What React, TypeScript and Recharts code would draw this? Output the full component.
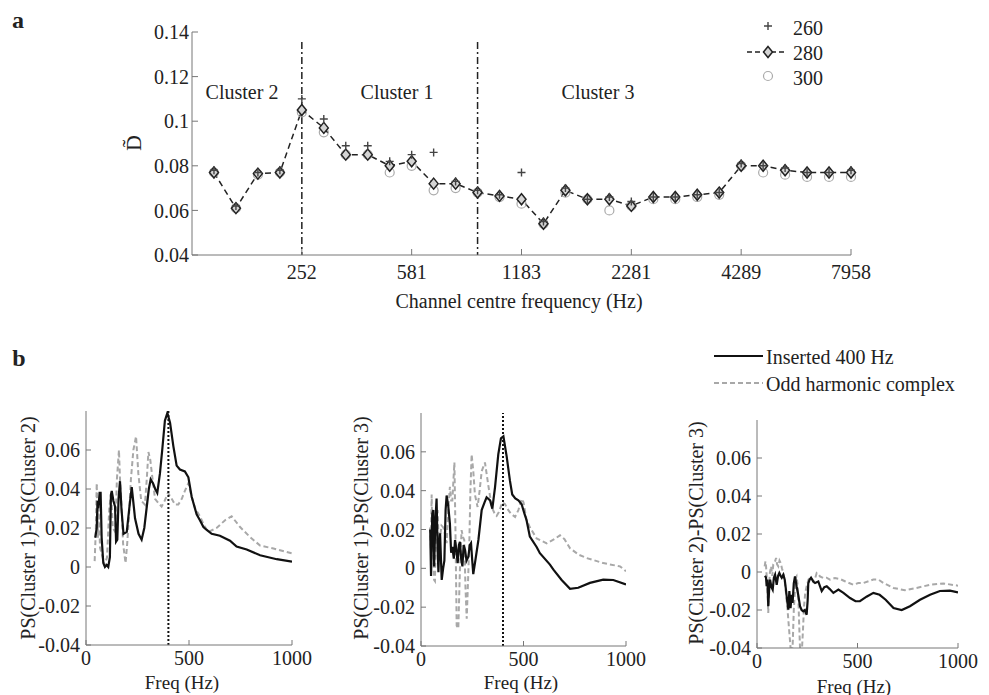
import React from 'react';
import { LineChart, Line, XAxis, YAxis, ReferenceLine } from 'recharts';

// panel a: channel index 0..29, tick labels are channel centre frequencies
const tickChannels = [4, 9, 14, 19, 24, 29];
const tickFreqs = ['252', '581', '1183', '2281', '4289', '7958'];
const dTicks = [0.04, 0.06, 0.08, 0.1, 0.12, 0.14];

const d260 = [0.078, 0.062, 0.077, 0.078, 0.110, 0.101, 0.089, 0.089, 0.082, 0.085, 0.086, 0.073, 0.069, 0.067, 0.077,
  0.055, 0.070, 0.065, 0.066, 0.064, 0.066, 0.066, 0.067, 0.068, 0.081, 0.080, 0.079, 0.077, 0.077, 0.078];
const d280 = [0.077, 0.061, 0.0765, 0.077, 0.105, 0.097, 0.085, 0.085, 0.080, 0.082, 0.072, 0.072, 0.068, 0.0665, 0.065,
  0.054, 0.069, 0.065, 0.065, 0.062, 0.066, 0.066, 0.067, 0.068, 0.080, 0.080, 0.078, 0.077, 0.077, 0.077];
const d300 = [0.077, 0.061, 0.076, 0.077, 0.104, 0.095, 0.085, 0.085, 0.077, 0.080, 0.069, 0.070, 0.068, 0.066, 0.063,
  0.054, 0.068, 0.065, 0.060, 0.062, 0.065, 0.065, 0.066, 0.067, 0.080, 0.077, 0.076, 0.075, 0.075, 0.075];
const clusterBounds = [4, 12];

// panel b: [freq Hz, power spectrum difference]
const freqTicks = [0, 500, 1000];
const psTicks = [-0.04, -0.02, 0, 0.02, 0.04, 0.06];
const insertedFreq = 400;

const c12Solid = [[45, 0.015], [52, 0.020], [56, 0.034], [60, 0.030], [66, 0.038], [71, 0.038], [76, 0.015], [84, 0.002],
  [92, 0.0], [100, 0.001], [108, 0.0], [116, 0.005], [121, 0.037], [125, 0.039], [133, 0.034], [141, 0.031], [146, 0.013],
  [152, 0.014], [158, 0.035], [165, 0.044], [172, 0.030], [182, 0.017], [198, 0.018], [210, 0.030], [222, 0.041], [238, 0.025],
  [255, 0.017], [270, 0.014], [283, 0.020], [294, 0.030], [305, 0.040], [314, 0.045], [325, 0.043], [336, 0.040], [346, 0.038],
  [359, 0.048], [370, 0.060], [383, 0.075], [395, 0.079], [408, 0.074], [424, 0.062], [440, 0.052], [456, 0.050], [480, 0.049],
  [497, 0.046], [513, 0.036], [537, 0.027], [553, 0.024], [570, 0.0205], [586, 0.019], [610, 0.017], [650, 0.016], [699, 0.0135],
  [731, 0.0105], [780, 0.009], [845, 0.006], [926, 0.004], [1000, 0.0027]];
const c12Dashed = [[42, 0.003], [48, 0.020], [52, 0.043], [58, 0.015], [62, 0.030], [68, 0.010], [78, 0.006], [90, 0.001],
  [102, 0.005], [113, 0.030], [122, 0.038], [130, 0.020], [142, 0.018], [150, 0.045], [160, 0.060], [165, 0.045], [171, 0.035],
  [180, 0.012], [192, 0.002], [200, 0.012], [208, 0.025], [218, 0.045], [230, 0.060], [243, 0.067], [254, 0.048], [268, 0.034],
  [286, 0.032], [295, 0.045], [303, 0.059], [312, 0.055], [322, 0.046], [335, 0.035], [350, 0.033], [367, 0.031], [382, 0.034],
  [398, 0.038], [416, 0.035], [432, 0.032], [448, 0.032], [465, 0.035], [480, 0.039], [497, 0.043], [513, 0.036], [530, 0.030],
  [553, 0.026], [575, 0.021], [594, 0.018], [634, 0.020], [675, 0.024], [707, 0.026], [748, 0.0205], [796, 0.0154], [845, 0.011],
  [910, 0.0095], [1000, 0.007]];

const c13Solid = [[45, 0.020], [49, -0.004], [55, 0.028], [60, 0.030], [64, 0.001], [70, 0.024], [76, 0.036], [81, 0.010],
  [85, -0.002], [90, 0.015], [93, 0.018], [101, -0.006], [108, 0.0], [114, 0.004], [120, 0.030], [125, 0.0375], [133, 0.032],
  [141, 0.023], [147, 0.008], [153, 0.011], [160, 0.005], [166, 0.0146], [172, 0.010], [179, 0.0027], [185, 0.012], [190, 0.0137],
  [196, 0.005], [202, 0.001], [208, 0.012], [215, 0.0095], [222, 0.004], [231, 0.006], [238, 0.012], [244, 0.013], [250, 0.004],
  [255, -0.003], [265, 0.004], [280, 0.0146], [296, 0.030], [310, 0.034], [320, 0.0366], [337, 0.035], [348, 0.0307], [361, 0.0417],
  [377, 0.0587], [390, 0.067], [402, 0.068], [418, 0.0575], [434, 0.045], [445, 0.038], [460, 0.036], [475, 0.035], [491, 0.033],
  [505, 0.028], [515, 0.0248], [531, 0.0163], [564, 0.011], [580, 0.0078], [629, 0.0019], [646, -0.0007], [686, -0.006],
  [727, -0.0105], [767, -0.010], [824, -0.0075], [889, -0.0058], [938, -0.006], [1000, -0.0083]];
const c13Dashed = [[44, 0.021], [48, 0.010], [52, 0.038], [56, 0.015], [60, 0.008], [64, -0.006], [68, -0.0066], [74, 0.025],
  [81, 0.030], [87, 0.012], [93, 0.016], [100, 0.022], [109, 0.021], [116, 0.018], [125, 0.013], [133, 0.030], [141, 0.042],
  [147, 0.035], [153, 0.035], [158, 0.045], [163, 0.0545], [168, 0.020], [174, -0.0295], [182, -0.031], [190, 0.0], [198, 0.0197],
  [205, 0.016], [211, 0.0146], [217, -0.010], [223, -0.026], [230, -0.005], [236, 0.0146], [241, 0.040], [247, 0.0587], [255, 0.050],
  [263, 0.038], [276, 0.0316], [286, 0.040], [296, 0.050], [312, 0.0545], [328, 0.043], [345, 0.0316], [360, 0.028], [369, 0.027],
  [380, 0.029], [397, 0.034], [410, 0.033], [426, 0.030], [440, 0.028], [459, 0.0265], [475, 0.030], [491, 0.0358], [500, 0.034],
  [515, 0.0248], [532, 0.021], [564, 0.0154], [613, 0.0129], [650, 0.015], [678, 0.017], [700, 0.015], [727, 0.0103], [770, 0.007],
  [808, 0.0053], [889, 0.0027], [971, 0.001], [1000, -0.0015]];

const c23Solid = [[40, -0.002], [45, -0.003], [48, -0.0075], [52, -0.004], [56, -0.018], [60, -0.010], [65, -0.004], [72, -0.008],
  [78, -0.0093], [84, -0.003], [90, -0.0014], [98, -0.0067], [105, -0.002], [111, -0.0005], [117, -0.002], [123, -0.003],
  [131, -0.0014], [138, -0.004], [144, -0.0093], [150, -0.015], [156, -0.0198], [161, -0.010], [167, -0.019], [172, -0.012],
  [177, -0.0163], [183, -0.006], [189, -0.0023], [197, -0.0075], [205, -0.012], [214, -0.018], [222, -0.020], [230, -0.0207],
  [238, -0.020], [247, -0.0225], [252, -0.015], [255, -0.006], [262, -0.004], [269, -0.003], [280, -0.005], [289, -0.0058],
  [305, -0.005], [322, -0.010], [335, -0.008], [347, -0.0075], [362, -0.009], [380, -0.011], [405, -0.0093], [430, -0.011],
  [463, -0.0137], [490, -0.0154], [512, -0.0154], [545, -0.013], [579, -0.011], [610, -0.012], [640, -0.0146], [679, -0.019],
  [720, -0.020], [761, -0.018], [811, -0.0146], [861, -0.012], [910, -0.010], [960, -0.0098], [1000, -0.0107]];
const c23Dashed = [[38, 0.003], [42, 0.0056], [45, 0.003], [48, -0.002], [53, -0.012], [56, -0.0216], [60, -0.008], [64, -0.0005],
  [70, 0.003], [76, -0.002], [81, 0.004], [88, 0.005], [95, 0.0074], [100, 0.004], [106, 0.003], [112, 0.006], [118, 0.0047],
  [124, 0.002], [131, -0.0005], [138, -0.005], [144, -0.011], [152, -0.020], [161, -0.032], [167, -0.040], [177, -0.040],
  [183, -0.020], [189, -0.0093], [193, -0.003], [197, -0.0023], [201, -0.006], [206, -0.0146], [210, -0.028], [214, -0.040],
  [224, -0.040], [229, -0.030], [234, -0.018], [240, -0.011], [247, -0.0075], [256, -0.004], [264, -0.0032], [272, -0.003],
  [280, -0.005], [290, -0.003], [297, -0.0005], [305, -0.001], [313, -0.0023], [330, -0.0032], [346, -0.003], [363, -0.004],
  [388, -0.0032], [413, -0.0037], [440, -0.005], [479, -0.0067], [504, -0.0058], [529, -0.0058], [579, -0.004], [604, -0.004],
  [629, -0.0058], [679, -0.0084], [736, -0.0096], [794, -0.0084], [861, -0.0067], [927, -0.006], [1000, -0.0072]];

const FONT = '"Liberation Serif", "Times New Roman", serif';
const tickStyle = { fill: '#222', fontSize: 20, fontFamily: FONT };
const fmt = (v: number) => String(+v.toFixed(2));

const toRows = (pairs: number[][]) => pairs.map(([f, v]) => ({ f, v }));

const Txt = ({ x, y, children, size = 20, bold = false, rotate = false }: any) => (
  <div style={{
    position: 'absolute', left: x, top: y, fontSize: size, fontWeight: bold ? 'bold' : 'normal',
    transform: `translate(-50%, -50%)${rotate ? ' rotate(-90deg)' : ''}`, whiteSpace: 'nowrap', lineHeight: 1, color: '#222'
  }}>{children}</div>
);

const Plus = ({ cx, cy }: any) => (
  <path d={`M${cx - 4},${cy}H${cx + 4}M${cx},${cy - 4}V${cy + 4}`} stroke="#444" strokeWidth={1.4} fill="none" />
);
const Ring = ({ cx, cy }: any) => <circle cx={cx} cy={cy} r={4.5} stroke="#aaa" strokeWidth={1.2} fill="none" />;
const Diamond = ({ cx, cy }: any) => (
  <path d={`M${cx},${cy - 5.5}L${cx + 4.5},${cy}L${cx},${cy + 5.5}L${cx - 4.5},${cy}Z`} stroke="#222" strokeWidth={1.5} fill="#d4d4d4" />
);

const PanelA = () => {
  const rows = d280.map((v, i) => ({ ch: i, a: d260[i], b: v, c: d300[i] }));
  return (
    <div style={{ position: 'absolute', left: 0, top: 0 }}>
      <LineChart width={989} height={330} data={rows} margin={{ top: 32, right: 138, bottom: 45, left: 132 }}>
        <XAxis type="number" dataKey="ch" domain={[-1, 29]} ticks={tickChannels}
          tickFormatter={(v: number) => tickFreqs[tickChannels.indexOf(v)]}
          tick={tickStyle} tickSize={-6} tickMargin={16} stroke="#777" height={30} />
        <YAxis type="number" domain={[0.04, 0.14]} ticks={dTicks} tickFormatter={fmt}
          tick={tickStyle} tickSize={-6} tickMargin={9} stroke="#777" width={60} />
        {clusterBounds.map((b) => (
          <ReferenceLine key={b} segment={[{ x: b, y: 0.1355 }, { x: b, y: 0.04 }]}
            stroke="#222" strokeWidth={1.5} strokeDasharray="7 3 2 3" />
        ))}
        <Line dataKey="c" stroke="none" isAnimationActive={false}
          dot={(p: any) => <Ring key={`c${p.index}`} cx={p.cx} cy={p.cy} />} />
        <Line dataKey="b" stroke="#222" strokeWidth={1.5} strokeDasharray="6 4" isAnimationActive={false}
          dot={(p: any) => <Diamond key={`b${p.index}`} cx={p.cx} cy={p.cy} />} />
        <Line dataKey="a" stroke="none" isAnimationActive={false}
          dot={(p: any) => <Plus key={`a${p.index}`} cx={p.cx} cy={p.cy} />} />
      </LineChart>
    </div>
  );
};

const SubPlot = ({ left, top, width, height, solid, dashed, marker }: any) => {
  const padL = 90, padR = 20, padT = 10, padB = 50;
  return (
    <div style={{ position: 'absolute', left: left - padL, top: top - padT }}>
      <LineChart width={width + padL + padR} height={height + padT + padB}
        margin={{ top: padT, right: padR, bottom: padB - 40, left: padL - 60 }}>
        <XAxis type="number" dataKey="f" domain={[0, 1000]} ticks={freqTicks} tick={tickStyle}
          tickSize={-5} tickMargin={11} stroke="#777" height={40} allowDataOverflow />
        <YAxis type="number" domain={[-0.04, 0.08]} ticks={psTicks} tickFormatter={fmt} tick={tickStyle}
          tickSize={-5} tickMargin={11} stroke="#777" width={60} allowDataOverflow />
        <Line data={toRows(dashed)} dataKey="v" stroke="#a8a8a8" strokeWidth={2} strokeDasharray="5 3"
          dot={false} isAnimationActive={false} />
        <Line data={toRows(solid)} dataKey="v" stroke="#111" strokeWidth={2.2} dot={false} isAnimationActive={false} />
        {marker && <ReferenceLine x={insertedFreq} stroke="#111" strokeWidth={2} strokeDasharray="2 2" />}
      </LineChart>
    </div>
  );
};

export default function App() {
  return (
    <div style={{ position: 'absolute', left: 0, top: 0, width: 989, height: 695, background: '#fff', fontFamily: FONT, overflow: 'hidden' }}>
      <PanelA />
      <Txt x={18} y={20} size={24} bold>a</Txt>
      <Txt x={134} y={143} size={22} rotate>D̃</Txt>
      <Txt x={242} y={92}>Cluster 2</Txt>
      <Txt x={397} y={92}>Cluster 1</Txt>
      <Txt x={598} y={92}>Cluster 3</Txt>
      <Txt x={519} y={301}>Channel centre frequency (Hz)</Txt>

      <svg style={{ position: 'absolute', left: 740, top: 14 }} width={50} height={75}>
        <Plus cx={28} cy={12} />
        <line x1={7} y1={38} x2={46} y2={38} stroke="#222" strokeWidth={1.5} strokeDasharray="5 3" />
        <Diamond cx={28} cy={38} />
        <Ring cx={28} cy={62} />
      </svg>
      <div style={{ position: 'absolute', left: 793, top: 16, fontSize: 20, lineHeight: '25px', color: '#222' }}>
        <div>260</div><div>280</div><div>300</div>
      </div>

      <Txt x={19} y={358} size={24} bold>b</Txt>
      <svg style={{ position: 'absolute', left: 710, top: 346 }} width={60} height={50}>
        <line x1={4} y1={10} x2={53} y2={10} stroke="#111" strokeWidth={2.2} />
        <line x1={4} y1={37} x2={53} y2={37} stroke="#a8a8a8" strokeWidth={2} strokeDasharray="5 3" />
      </svg>
      <div style={{ position: 'absolute', left: 766, top: 344, fontSize: 20, lineHeight: '27px', color: '#222' }}>
        <div>Inserted 400 Hz</div><div>Odd harmonic complex</div>
      </div>

      <SubPlot left={86} top={411} width={206} height={234} solid={c12Solid} dashed={c12Dashed} marker />
      <SubPlot left={421} top={413} width={205} height={233} solid={c13Solid} dashed={c13Dashed} marker />
      <SubPlot left={757} top={420} width={201} height={228} solid={c23Solid} dashed={c23Dashed} />

      <Txt x={28} y={528} rotate>PS(Cluster 1)-PS(Cluster 2)</Txt>
      <Txt x={361} y={528} rotate>PS(Cluster 1)-PS(Cluster 3)</Txt>
      <Txt x={696} y={533} rotate>PS(Cluster 2)-PS(Cluster 3)</Txt>
      <Txt x={182} y={682} size={19}>Freq (Hz)</Txt>
      <Txt x={521} y={682} size={19}>Freq (Hz)</Txt>
      <Txt x={854} y={686} size={19}>Freq (Hz)</Txt>
    </div>
  );
}
